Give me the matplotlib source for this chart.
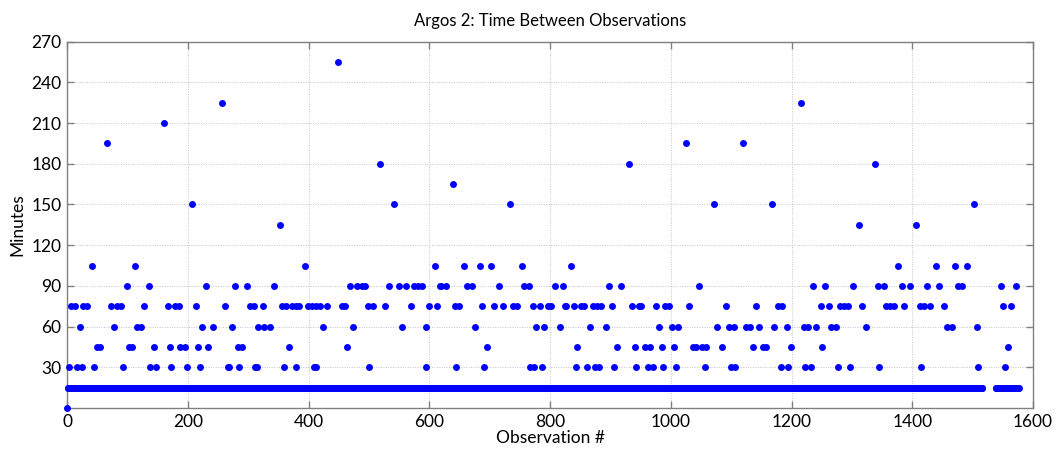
import numpy as np
import matplotlib
matplotlib.use("Agg")
import matplotlib.pyplot as plt

plt.rcParams['font.family'] = ['Lato', 'DejaVu Sans']

# Number of observations and missing block (no data)
n_obs = 1577
missing_start, missing_end = 1517, 1537
baseline_value = 15
first_value = 0

# Observations whose interval differs from the 15-minute baseline, by level
level_obs = {
    30: [3, 17, 25, 45, 93, 137, 147, 173, 198, 220, 267, 269, 285, 311, 314, 359, 380,
         409, 413, 500, 595, 645, 691, 766, 773, 787, 843, 861, 874, 881, 906, 943, 962,
         970, 987, 1008, 1056, 1099, 1106, 1182, 1194, 1223, 1232, 1277, 1297, 1345,
         1414, 1509, 1554],
    45: [49, 54, 103, 107, 144, 171, 187, 195, 217, 233, 283, 290, 368, 463, 695, 845,
         911, 941, 957, 965, 985, 1005, 1037, 1042, 1051, 1059, 1084, 1136, 1153, 1157,
         1199, 1251, 1558],
    60: [22, 77, 116, 123, 224, 241, 273, 317, 327, 336, 424, 473, 554, 594, 675, 777,
         790, 816, 866, 892, 980, 1002, 1012, 1077, 1096, 1104, 1124, 1132, 1146, 1171,
         1192, 1221, 1228, 1241, 1266, 1273, 1324, 1457, 1465, 1507],
    75: [7, 13, 26, 33, 72, 83, 89, 128, 167, 178, 185, 213, 262, 303, 309, 324, 356,
         363, 373, 379, 385, 399, 405, 412, 419, 430, 455, 460, 499, 506, 526, 569, 600,
         613, 642, 650, 688, 708, 722, 738, 745, 771, 784, 796, 802, 824, 827, 839, 852,
         857, 871, 878, 885, 903, 936, 947, 951, 975, 991, 997, 1030, 1092, 1141, 1178,
         1185, 1248, 1262, 1281, 1287, 1294, 1317, 1356, 1363, 1369, 1387, 1412, 1419,
         1430, 1453, 1551, 1564],
    90: [100, 135, 230, 279, 298, 342, 468, 481, 488, 493, 533, 549, 562, 574, 581, 588,
         617, 620, 628, 663, 670, 716, 757, 765, 809, 822, 898, 917, 1047, 1236, 1256,
         1302, 1343, 1353, 1383, 1397, 1425, 1444, 1476, 1483, 1547, 1571],
    105: [41, 113, 394, 609, 657, 684, 702, 753, 835, 1376, 1440, 1470, 1491],
    135: [353, 1312, 1406],
    150: [207, 542, 733, 1072, 1167, 1502],
    165: [639],
    180: [519, 930, 1338],
    195: [67, 1026, 1120],
    210: [161],
    225: [257, 1216],
    255: [449],
}

obs = np.arange(n_obs)
minutes = np.full(n_obs, float(baseline_value))
minutes[0] = first_value
for level, idx in level_obs.items():
    minutes[idx] = level
minutes[missing_start:missing_end + 1] = np.nan

fig = plt.figure(figsize=(10.59, 4.55), dpi=100)
ax = fig.add_axes([0.0633, 0.1033, 0.9122, 0.8051])
ax.plot(obs, minutes, linestyle='none', marker='o', markersize=5.0,
        color='#0000FF', markeredgewidth=0, clip_on=False, zorder=3)

ax.set_xlim(0, 1600)
ax.set_ylim(0, 270)
ax.set_xticks(np.arange(0, 1601, 200))
ax.set_yticks(np.arange(30, 271, 30))
ax.grid(True, linestyle=(0, (1, 1.5)), color='#c4c4c4', linewidth=0.7)
ax.set_axisbelow(True)
ax.tick_params(direction='in', length=5, width=1, color='#808080',
               labelsize=12.5, top=True, right=True, pad=4)
for s in ax.spines.values():
    s.set_color('#808080')
    s.set_linewidth(1)

ax.set_title('Argos 2: Time Between Observations', fontsize=12, pad=11)
ax.set_xlabel('Observation #', fontsize=12.5, labelpad=0)
ax.set_ylabel('Minutes', fontsize=12.5, labelpad=4)

fig.savefig('out.png', dpi=100)
